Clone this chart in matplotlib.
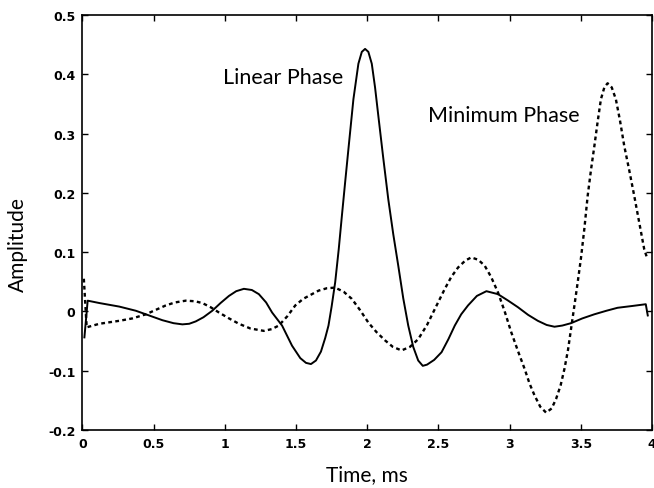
import numpy as np
import matplotlib
matplotlib.use("Agg")
import matplotlib.pyplot as plt

# Linear phase impulse response (solid)
lin_t = [0.014, 0.037, 0.119, 0.259, 0.375, 0.457, 0.562, 0.640, 0.702, 0.750,
         0.796, 0.850, 0.912, 0.970, 1.029, 1.080, 1.134, 1.190, 1.239, 1.290,
         1.332, 1.402, 1.472, 1.530, 1.570, 1.605, 1.640, 1.675, 1.705, 1.728,
         1.750, 1.775, 1.800, 1.822, 1.845, 1.868, 1.903, 1.938, 1.962, 1.985,
         2.008, 2.032, 2.055, 2.078, 2.112, 2.148, 2.183, 2.218, 2.253, 2.288,
         2.323, 2.358, 2.390, 2.420, 2.470, 2.522, 2.570, 2.615, 2.660, 2.708,
         2.770, 2.837, 2.918, 2.990, 3.058, 3.130, 3.198, 3.260, 3.315, 3.370,
         3.431, 3.510, 3.595, 3.680, 3.758, 3.860, 3.956, 3.970]
lin_a = [-0.044, 0.018, 0.014, 0.008, 0.001, -0.006, -0.015, -0.020, -0.022, -0.021,
         -0.017, -0.010, 0.001, 0.014, 0.026, 0.034, 0.038, 0.036, 0.029, 0.015,
         -0.002, -0.024, -0.058, -0.079, -0.087, -0.089, -0.083, -0.068, -0.045, -0.024,
         0.008, 0.049, 0.105, 0.161, 0.218, 0.274, 0.358, 0.418, 0.438, 0.443,
         0.438, 0.418, 0.378, 0.330, 0.260, 0.189, 0.130, 0.077, 0.022, -0.024,
         -0.060, -0.083, -0.092, -0.090, -0.082, -0.069, -0.047, -0.024, -0.005, 0.010,
         0.026, 0.034, 0.029, 0.018, 0.007, -0.006, -0.016, -0.023, -0.026, -0.024,
         -0.020, -0.012, -0.005, 0.001, 0.006, 0.009, 0.012, -0.007]

# Minimum phase impulse response (dotted)
min_t = [0.010, 0.030, 0.119, 0.259, 0.350, 0.446, 0.520, 0.586, 0.650, 0.726,
         0.790, 0.842, 0.900, 0.959, 1.030, 1.099, 1.180, 1.274, 1.330, 1.379,
         1.440, 1.495, 1.550, 1.612, 1.659, 1.717, 1.775, 1.835, 1.892, 1.950,
         2.008, 2.065, 2.125, 2.180, 2.241, 2.300, 2.358, 2.420, 2.475, 2.545,
         2.590, 2.638, 2.690, 2.731, 2.780, 2.825, 2.870, 2.918, 2.965, 3.011,
         3.060, 3.105, 3.140, 3.175, 3.215, 3.256, 3.295, 3.326, 3.358, 3.385,
         3.410, 3.431, 3.455, 3.478, 3.501, 3.525, 3.548, 3.572, 3.595, 3.618,
         3.641, 3.665, 3.688, 3.717, 3.746, 3.775, 3.805, 3.840, 3.875, 3.910,
         3.945, 3.968]
min_a = [0.055, -0.027, -0.021, -0.016, -0.012, -0.005, 0.003, 0.010, 0.015, 0.018,
         0.017, 0.014, 0.007, -0.002, -0.012, -0.021, -0.029, -0.033, -0.030, -0.024,
         -0.008, 0.010, 0.021, 0.029, 0.035, 0.039, 0.040, 0.033, 0.021, 0.002,
         -0.019, -0.035, -0.049, -0.060, -0.066, -0.060, -0.047, -0.023, 0.004, 0.038,
         0.058, 0.074, 0.086, 0.091, 0.087, 0.077, 0.058, 0.032, 0.000, -0.035,
         -0.068, -0.097, -0.122, -0.142, -0.161, -0.171, -0.164, -0.148, -0.125, -0.097,
         -0.065, -0.030, 0.010, 0.049, 0.090, 0.140, 0.195, 0.240, 0.279, 0.320,
         0.358, 0.378, 0.385, 0.378, 0.358, 0.322, 0.279, 0.238, 0.195, 0.150,
         0.105, 0.088]

x_ticks = [0, 0.5, 1, 1.5, 2, 2.5, 3, 3.5, 4]
x_tick_labels = ["0", "0.5", "1", "1.5", "2", "2.5", "3", "3.5", "4"]
y_ticks = [-0.2, -0.1, 0, 0.1, 0.2, 0.3, 0.4, 0.5]
y_tick_labels = ["-0.2", "-0.1", "0", "0.1", "0.2", "0.3", "0.4", "0.5"]

fig = plt.figure(figsize=(6.54, 4.89), dpi=100)
ax = fig.add_axes([0.126, 0.119, 0.871, 0.848])

ax.plot(lin_t, lin_a, color="black", lw=1.4)
ax.plot(min_t, min_a, color="black", lw=1.7, linestyle=(0, (1.6, 1.4)))

ax.set_xlim(0, 3.98)
ax.set_ylim(-0.2, 0.5)
ax.set_xticks(x_ticks)
ax.set_xticklabels(x_tick_labels)
ax.set_yticks(y_ticks)
ax.set_yticklabels(y_tick_labels)
ax.tick_params(direction="in", length=4, width=1, top=True, right=True,
               labelsize=9, pad=5)
for lab in ax.get_xticklabels() + ax.get_yticklabels():
    lab.set_fontweight("bold")
for s in ax.spines.values():
    s.set_linewidth(1.2)

txt = ["Lato", "DejaVu Sans"]
ax.text(1.41, 0.395, "Linear Phase", fontsize=15.5, family=txt, ha="center", va="center")
ax.text(2.957, 0.332, "Minimum Phase", fontsize=15.5, family=txt, ha="center", va="center")
ax.set_xlabel("Time, ms", fontsize=15, family=txt, labelpad=10)
ax.set_ylabel("Amplitude", fontsize=15, family=txt)
ax.yaxis.set_label_coords(-0.095, 0.45)

fig.savefig("out.png", dpi=100)
